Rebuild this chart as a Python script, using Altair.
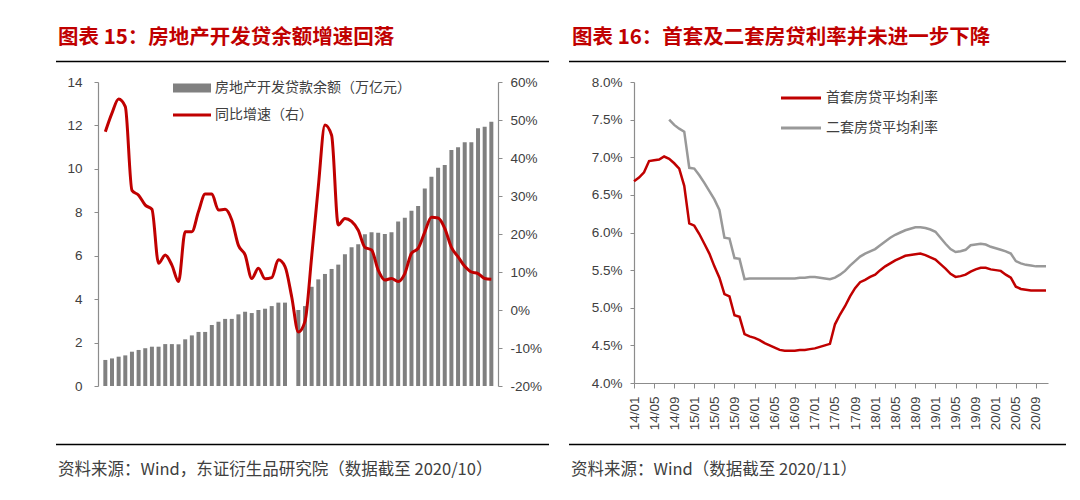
import json
import altair as alt
import pandas as pd

# ---------------- Left panel data (quarterly, 06/03 .. 20/09) ----------------
left_title = "图表 15：房地产开发贷余额增速回落"
left_source = "资料来源：Wind，东证衍生品研究院（数据截至 2020/10）"
bar_name = "房地产开发贷款余额（万亿元）"
line_name = "同比增速（右）"
left_tick_labels = ["06/03", "06/12", "07/09", "08/06", "09/03", "09/12", "10/09",
                    "11/06", "12/03", "12/12", "13/09", "14/06", "15/03", "15/12",
                    "16/09", "17/06", "18/03", "18/12", "19/09", "20/06"]
loan_balance = [1.20, 1.27, 1.35, 1.41, 1.58, 1.66, 1.74, 1.81, 1.81, 1.93,
                1.93, 1.92, 2.15, 2.33, 2.49, 2.49, 2.81, 2.96, 3.09, 3.09,
                3.30, 3.42, 3.36, 3.50, 3.56, 3.68, 3.84, 3.84, None, 3.50,
                3.68, 4.57, 4.91, 5.16, 5.39, 5.59, 6.07, 6.39, 6.53, 6.99,
                7.08, 7.06, 7.00, 7.08, 7.57, 7.75, 8.07, 8.29, 9.10, 9.64,
                10.05, 10.18, 10.87, 10.99, 11.22, 11.22, 11.87, 11.94, 12.17]
yoy_growth = [46.9, 51.8, 55.5, 53.5, 31.5, 30.2, 27.6, 26.5, 12.3, 14.5,
              11.8, 7.5, 20.6, 20.6, 25.9, 30.5, 30.5, 26.3, 26.5, 23.7,
              17.0, 14.5, 8.3, 11.0, 8.2, 8.5, 13.2, 11.4, 3.5, -5.8,
              -3.0, 14.0, 32.4, 48.7, 46.0, 22.4, 24.1, 23.3, 21.0, 16.5,
              15.8, 10.5, 7.9, 8.3, 7.5, 9.6, 14.9, 16.2, 20.5, 24.4,
              24.2, 21.5, 16.5, 14.0, 11.5, 10.0, 9.6, 8.3, 8.1]

# ---------------- Right panel data (monthly, 14/01 .. 20/11) ----------------
right_title = "图表 16：首套及二套房贷利率并未进一步下降"
right_source = "资料来源：Wind（数据截至 2020/11）"
first_name = "首套房贷平均利率"
second_name = "二套房贷平均利率"
right_tick_labels = ["14/01", "14/05", "14/09", "15/01", "15/05", "15/09", "16/01",
                     "16/05", "16/09", "17/01", "17/05", "17/09", "18/01", "18/05",
                     "18/09", "19/01", "19/05", "19/09", "20/01", "20/05", "20/09"]
first_rate = [6.68, 6.73, 6.80, 6.95, 6.96, 6.97, 7.01, 6.98, 6.92, 6.85,
              6.62, 6.12, 6.09, 5.98, 5.85, 5.72, 5.55, 5.40, 5.18, 5.15,
              4.90, 4.88, 4.65, 4.62, 4.60, 4.57, 4.53, 4.50, 4.47, 4.44,
              4.43, 4.43, 4.43, 4.44, 4.44, 4.45, 4.46, 4.48, 4.50, 4.52,
              4.78, 4.91, 5.02, 5.15, 5.26, 5.34, 5.37, 5.41, 5.44, 5.50,
              5.55, 5.59, 5.63, 5.66, 5.69, 5.70, 5.71, 5.72, 5.70, 5.67,
              5.64, 5.58, 5.52, 5.45, 5.41, 5.42, 5.44, 5.48, 5.51, 5.53,
              5.53, 5.51, 5.50, 5.49, 5.44, 5.40, 5.28, 5.25, 5.24, 5.23,
              5.23, 5.23, 5.23]
second_rate = [None, None, None, None, None, None, None,
               7.50, 7.43, 7.38, 7.34, 6.86, 6.85, 6.76, 6.66, 6.55, 6.44,
               6.30, 5.93, 5.92, 5.66, 5.65, 5.38, 5.39, 5.39, 5.39, 5.39,
               5.39, 5.39, 5.39, 5.39, 5.39, 5.39, 5.40, 5.40, 5.41, 5.41,
               5.40, 5.39, 5.38, 5.40, 5.44, 5.49, 5.56, 5.62, 5.68, 5.72,
               5.75, 5.78, 5.83, 5.88, 5.93, 5.97, 6.00, 6.03, 6.05, 6.07,
               6.07, 6.06, 6.04, 6.01, 5.93, 5.85, 5.78, 5.74, 5.75, 5.77,
               5.83, 5.84, 5.85, 5.84, 5.81, 5.79, 5.77, 5.75, 5.72, 5.62,
               5.59, 5.57, 5.56, 5.55, 5.55, 5.55]

# ---------------- styles ----------------
RED = "#C00000"
BAR_GRAY = "#808080"
LINE_GRAY = "#999999"
AXIS_GRAY = "#8c8c8c"
TXT = "#404040"
CJK = "Noto Sans CJK SC"
LAT = "Liberation Sans"

one = pd.DataFrame({"k": [0]})


def text_layer(txt, x, y, size, color, weight="normal"):
    return alt.Chart(one).mark_text(
        text=txt, align="left", baseline="middle", fontSize=size,
        color=color, fontWeight=weight, font=CJK
    ).encode(x=alt.value(x), y=alt.value(y))


def hrule(x1, x2, y, color="black", w=1.5):
    return alt.Chart(one).mark_rule(color=color, strokeWidth=w).encode(
        x=alt.value(x1), x2=alt.value(x2), y=alt.value(y))


# ---------------- Left panel ----------------
W1, H1 = 400, 304
q_df = pd.DataFrame({"q": list(range(len(loan_balance))),
                     "bal": loan_balance, "yoy": yoy_growth})
bar_df = q_df.dropna(subset=["bal"])
x_left = alt.Scale(domain=[-0.35, 58.25], nice=False, zero=False)
left_label_expr = json.dumps(left_tick_labels, ensure_ascii=False) + "[round(datum.value / 3)]"

bars = alt.Chart(bar_df).mark_bar(size=4, color=BAR_GRAY).encode(
    x=alt.X("q:Q", scale=x_left,
            axis=alt.Axis(values=list(range(0, 58, 3)), labelExpr=left_label_expr,
                          labelAngle=270, title=None, tickSize=3, labelPadding=4,
                          labelFontSize=13.5)),
    y=alt.Y("bal:Q", scale=alt.Scale(domain=[0, 14], nice=False),
            axis=alt.Axis(values=list(range(0, 15, 2)), title=None, orient="left",
                          tickSize=4, labelPadding=12, labelFontSize=13.5)),
)
growth = alt.Chart(q_df).mark_line(color=RED, strokeWidth=3, interpolate="monotone").encode(
    x=alt.X("q:Q", scale=x_left, axis=None),
    y=alt.Y("yoy:Q", scale=alt.Scale(domain=[-20, 60], nice=False),
            axis=alt.Axis(values=list(range(-20, 61, 10)), labelExpr="datum.value + '%'",
                          orient="right", title=None, tickSize=4, labelPadding=8,
                          labelFontSize=13.5)),
)
left_legend_rect = alt.Chart(one).mark_rect(color=BAR_GRAY).encode(
    x=alt.value(75), x2=alt.value(113), y=alt.value(1.5), y2=alt.value(10.5))
left_legend_line = hrule(75, 113, 33, color=RED, w=3)

left = alt.layer(
    bars, growth,
    left_legend_rect, text_layer(bar_name, 117, 6, 14, TXT),
    left_legend_line, text_layer(line_name, 117, 33, 14, TXT),
    text_layer(left_title, -40, -44, 20.5, RED, "bold"),
    hrule(-42, 451, -20.5),
    hrule(-42, 451, 362.5),
    text_layer(left_source, -40, 388, 16.5, TXT),
).resolve_scale(y="independent").properties(width=W1, height=H1)

# ---------------- Right panel ----------------
W2, H2 = 414, 301
n = len(first_rate)
r_df = pd.DataFrame({
    "m": list(range(n)) * 2,
    "rate": first_rate + second_rate,
    "s": [first_name] * n + [second_name] * n,
}).dropna()
x_right = alt.Scale(domain=[0, 82.4], nice=False, zero=False)
right_label_expr = json.dumps(right_tick_labels, ensure_ascii=False) + "[round(datum.value / 4)]"

rates = alt.Chart(r_df).mark_line(strokeWidth=2.5).encode(
    x=alt.X("m:Q", scale=x_right,
            axis=alt.Axis(values=list(range(0, 81, 4)), labelExpr=right_label_expr,
                          labelAngle=270, title=None, tickSize=5, labelPadding=8,
                          labelFontSize=13.5)),
    y=alt.Y("rate:Q", scale=alt.Scale(domain=[4, 8], nice=False, zero=False),
            axis=alt.Axis(values=[4.0, 4.5, 5.0, 5.5, 6.0, 6.5, 7.0, 7.5, 8.0],
                          labelExpr="format(datum.value, '.1f') + '%'", title=None,
                          tickSize=4, labelPadding=8, labelFontSize=13.5)),
    color=alt.Color("s:N", scale=alt.Scale(domain=[first_name, second_name],
                                           range=[RED, LINE_GRAY]), legend=None),
)

right = alt.layer(
    rates,
    hrule(147, 187, 16, color=RED, w=3), text_layer(first_name, 192, 16, 14, TXT),
    hrule(147, 187, 46, color=LINE_GRAY, w=3), text_layer(second_name, 192, 46, 14, TXT),
    text_layer(right_title, -62, -44, 20.5, RED, "bold"),
    hrule(-65, 432, -20.5),
    hrule(-65, 432, 362.5),
    text_layer(right_source, -63, 388, 16.5, TXT),
).properties(width=W2, height=H2)

chart = alt.hconcat(left, right, spacing=18).properties(
    padding={"left": 47, "top": 20, "right": 0, "bottom": 0},
    background="white",
).configure_view(stroke=None).configure_axis(
    grid=False, domainColor=AXIS_GRAY, tickColor=AXIS_GRAY,
    labelColor=TXT, labelFont=LAT, domainWidth=1.2,
)

chart.save("out.html", embed_options={"renderer": "svg", "actions": False})
